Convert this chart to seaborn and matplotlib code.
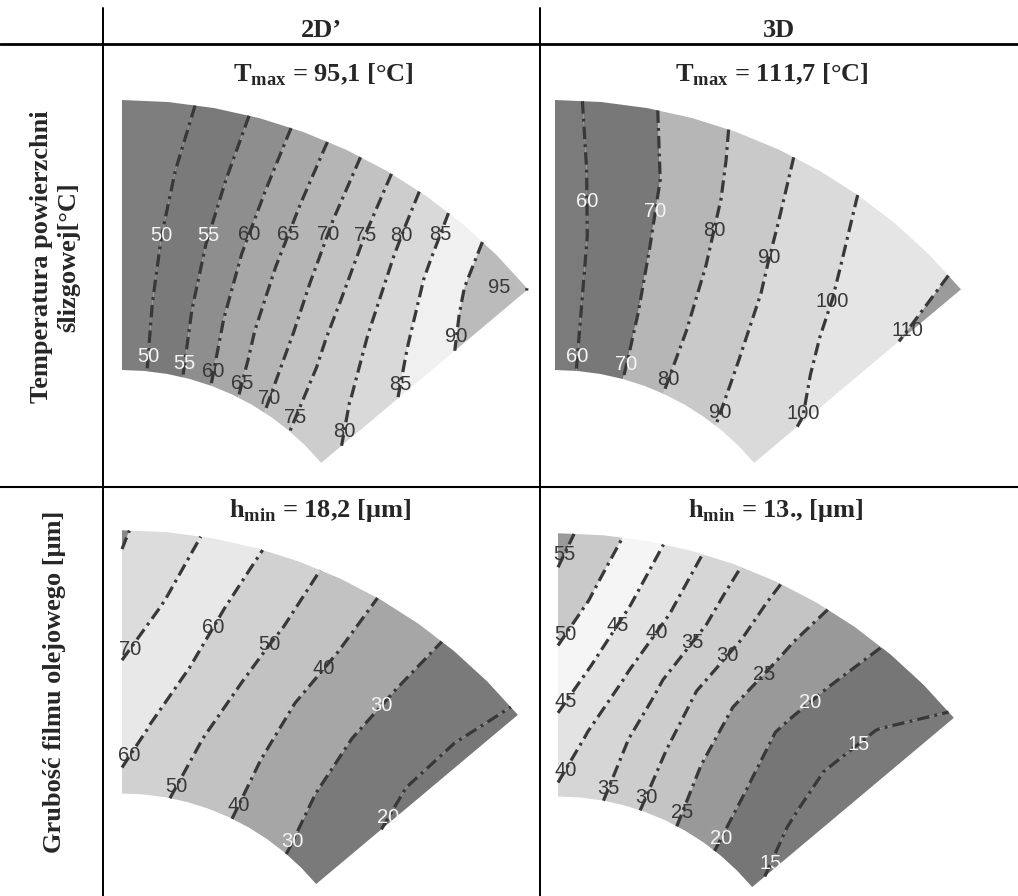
import numpy as np
import matplotlib
matplotlib.use("Agg")
import matplotlib.pyplot as plt
from matplotlib.lines import Line2D
import seaborn as sns

# pad grid: radius (hub -> rim) and angle from the leading edge [deg]
radii = [260, 327.5, 395, 462.5, 530]
angles = [0, 5, 10, 15, 20, 25, 30, 35, 40, 45, 50]

# sliding surface temperature [C], one row per radius
temp_2d = [
    [47.5, 49.7, 52.6, 56.0, 60.0, 63.8, 67.6, 71.3, 74.9, 76.8, 78.5],
    [47.5, 49.8, 53.1, 57.2, 61.7, 65.9, 69.6, 74.0, 77.3, 80.3, 82.3],
    [47.0, 49.5, 53.0, 57.4, 62.3, 66.9, 71.4, 76.4, 80.7, 84.3, 87.9],
    [46.5, 48.9, 52.3, 56.8, 62.0, 67.5, 73.1, 78.9, 84.3, 89.1, 91.5],
    [46.0, 48.3, 51.2, 56.1, 61.5, 67.7, 74.2, 81.2, 87.4, 91.9, 95.1],
]
temp_3d = [
    [55.5, 60.3, 65.0, 69.8, 75.2, 80.4, 84.0, 87.7, 91.3, 94.5, 97.5],
    [55.5, 60.3, 65.3, 70.3, 76.0, 81.4, 86.2, 90.7, 93.9, 97.2, 100.5],
    [55.5, 60.3, 65.7, 71.2, 77.1, 82.9, 88.6, 93.4, 97.9, 102.8, 108.8],
    [56.0, 61.1, 66.4, 72.1, 78.6, 85.2, 91.5, 96.9, 101.8, 106.1, 110.3],
    [56.5, 62.4, 68.5, 74.8, 81.1, 87.7, 94.1, 100.2, 103.8, 107.5, 111.7],
]
# oil film thickness [um]
film_2d = [
    [57.0, 53.8, 50.6, 47.3, 43.9, 40.5, 37.1, 33.7, 30.3, 26.5, 23.0],
    [64.6, 59.6, 54.7, 49.7, 45.2, 40.7, 36.3, 31.9, 27.9, 24.2, 20.5],
    [69.8, 65.0, 60.1, 54.0, 47.8, 41.8, 36.5, 31.6, 26.9, 21.3, 18.8],
    [77.5, 70.8, 64.1, 57.6, 51.4, 44.7, 38.3, 32.6, 27.3, 21.8, 18.3],
    [81.0, 74.9, 68.4, 61.2, 53.7, 46.5, 39.5, 33.6, 28.1, 23.3, 19.0],
]
film_3d = [
    [39.0, 37.0, 35.2, 32.2, 29.4, 26.6, 23.9, 21.4, 19.2, 17.3, 15.5],
    [43.7, 40.2, 36.9, 33.5, 29.9, 26.0, 23.0, 20.5, 17.9, 15.3, 13.5],
    [48.5, 44.9, 40.5, 35.8, 31.0, 26.5, 22.8, 19.6, 16.9, 14.3, 13.2],
    [53.6, 49.0, 44.3, 39.4, 34.2, 29.1, 24.5, 21.0, 17.9, 14.9, 14.0],
    [56.5, 52.3, 47.0, 41.4, 35.8, 30.5, 26.1, 22.4, 19.2, 16.9, 14.6],
]

temp_2d_levels = [50, 55, 60, 65, 70, 75, 80, 85, 90, 95]
temp_3d_levels = [60, 70, 80, 90, 100, 110]
film_2d_levels = [20, 30, 40, 50, 60, 70, 80]
film_3d_levels = [15, 20, 25, 30, 35, 40, 45, 50, 55]

col_headers = ["2D\u2019", "3D"]
row_headers = ["Temperatura powierzchni\nślizgowej[°C]", "Grubość filmu olejowego [μm]"]
titles = [
    r"$\mathbf{T}_{\mathbf{max}}$ = 95,1 [°C]",
    r"$\mathbf{T}_{\mathbf{max}}$ = 111,7 [°C]",
    r"$\mathbf{h}_{\mathbf{min}}$ = 18,2 [μm]",
    r"$\mathbf{h}_{\mathbf{min}}$ = 13., [μm]",
]

sns.set_theme(style="white")
plt.rcParams["font.family"] = ["Liberation Serif", "DejaVu Serif"]
plt.rcParams["mathtext.fontset"] = "custom"
plt.rcParams["mathtext.rm"] = "Liberation Serif"
plt.rcParams["mathtext.bf"] = "Liberation Serif:bold"

W, H = 1018, 896
fig = plt.figure(figsize=(W / 100, H / 100), dpi=100)
fig.patch.set_facecolor("white")

LINE_C = "#383838"
DASH = (0, (3.9, 1.6, 0.9, 1.6))
PAD_MID = np.array([167.0, 358.0])  # middle of the pad, used to pull tiny labels inside


def label_spots(xy, up, single):
    """points along one contour where MATLAB-like labels sit"""
    seg = np.hypot(np.diff(xy[:, 0]), np.diff(xy[:, 1]))
    s = np.concatenate([[0], np.cumsum(seg)])
    t = np.linspace(0, s[-1], 300)
    px = np.interp(t, s, xy[:, 0])
    py = np.interp(t, s, xy[:, 1])
    if s[-1] < 15:
        p = np.array([px[150], py[150]])
        d = PAD_MID - p
        p = p + 28 * d / np.hypot(*d)
        return [tuple(p)]
    rr = np.hypot(px, py)
    if rr[0] > rr[-1]:
        px, py, rr = px[::-1], py[::-1], rr[::-1]
    i_low = np.searchsorted(t, min(14, s[-1] / 2))
    spots = [(px[i_low], py[i_low])]
    if single:
        return spots
    key, val = up
    dist = np.abs((rr if key == "r" else py) - val)
    i_up = int(np.argmin(dist))
    if t[i_up] - t[i_low] > 45 and t[-1] - t[i_up] > 15:
        spots.append((px[i_up], py[i_up]))
    return spots


def draw_panel(ax, field, levels, band_colors, light_levels, up, no_label, single):
    R, A = np.meshgrid(radii, np.radians(angles), indexing="ij")
    X, Y = R * np.sin(A), R * np.cos(A)
    Z = np.array(field)
    ax.contourf(X, Y, Z, levels=[0] + levels + [1000], colors=band_colors,
                antialiased=True)
    cs = ax.contour(X, Y, Z, levels=levels, colors=LINE_C, linewidths=2.3,
                    linestyles=[DASH])
    for lev, path in zip(levels, cs.get_paths()):
        polys = path.to_polygons(closed_only=False)
        if not polys or lev in no_label:
            continue
        xy = max(polys, key=len)
        col = "#f4f4f4" if lev in light_levels else "#383838"
        for x, y in label_spots(np.asarray(xy), up, lev in single):
            ax.text(x, y, f"{lev}", ha="center", va="center", fontsize=14.5,
                    family="Liberation Sans", color=col, zorder=5)


panels = [
    (temp_2d, temp_2d_levels,
     ["#7e7e7e", "#7a7a7a", "#8e8e8e", "#a7a7a7", "#b5b5b5", "#c2c2c2",
      "#cdcdcd", "#d9d9d9", "#f0f0f0", "#bbbbbb", "#bbbbbb"], [50, 55],
     ("y", 395), [], [], (122, 630, 1.0)),
    (temp_3d, temp_3d_levels,
     ["#7b7b7b", "#787878", "#b6b6b6", "#c9c9c9", "#dadada", "#e5e5e5",
      "#9b9b9b"], [60, 70], ("r", 430), [], [], (555, 630, 1.0)),
    (film_2d, film_2d_levels,
     ["#777777", "#7a7a7a", "#a6a6a6", "#c2c2c2", "#d1d1d1", "#e8e8e8",
      "#dcdcdc", "#888888"], [20, 30], ("r", 440), [80], [20],
     (122, 1047, 0.975)),
    (film_3d, film_3d_levels,
     ["#7a7a7a", "#767676", "#999999", "#c4c4c4", "#cdcdcd", "#d6d6d6",
      "#e3e3e3", "#f5f5f5", "#c9c9c9", "#9a9a9a"], [15, 20], ("r", 440), [], [],
     (558, 1050, 0.975)),
]

xlo, xhi, ylo, yhi = -6, 414, 158, 536
for field, levels, colors, light, up, skip, single, (cx, cy, sc) in panels:
    left, right = cx + xlo * sc, cx + xhi * sc
    top, bottom = cy - yhi * sc, cy - ylo * sc
    ax = fig.add_axes([left / W, (H - bottom) / H, (right - left) / W,
                       (bottom - top) / H])
    draw_panel(ax, field, levels, colors, light, up, skip, single)
    ax.set_xlim(xlo, xhi)
    ax.set_ylim(ylo, yhi)
    ax.axis("off")


# table rules
def rule(x0, y0, x1, y1, lw):
    fig.add_artist(Line2D([x0 / W, x1 / W], [1 - y0 / H, 1 - y1 / H],
                          transform=fig.transFigure, color="black", lw=lw))


rule(0, 44, W, 44, 2.0)
rule(0, 487, W, 487, 1.5)
rule(103, 8, 103, H, 1.4)
rule(540, 8, 540, H, 1.4)

bold = dict(fontweight="bold", fontsize=19, ha="center")
fig.text(321 / W, 1 - 37 / H, col_headers[0], va="baseline", **bold)
fig.text(779 / W, 1 - 37 / H, col_headers[1], va="baseline", **bold)

for title, (x, y) in zip(titles, [(323, 81), (772, 81), (320, 517), (776, 517)]):
    fig.text(x / W, 1 - y / H, title, va="baseline", **bold)

fig.text(55 / W, 1 - 257 / H, row_headers[0], rotation=90, va="center",
         multialignment="center", linespacing=1.2, **bold)
fig.text(55 / W, 1 - 682 / H, row_headers[1], rotation=90, va="center", **bold)

fig.savefig("out.png", dpi=100, facecolor="white")
